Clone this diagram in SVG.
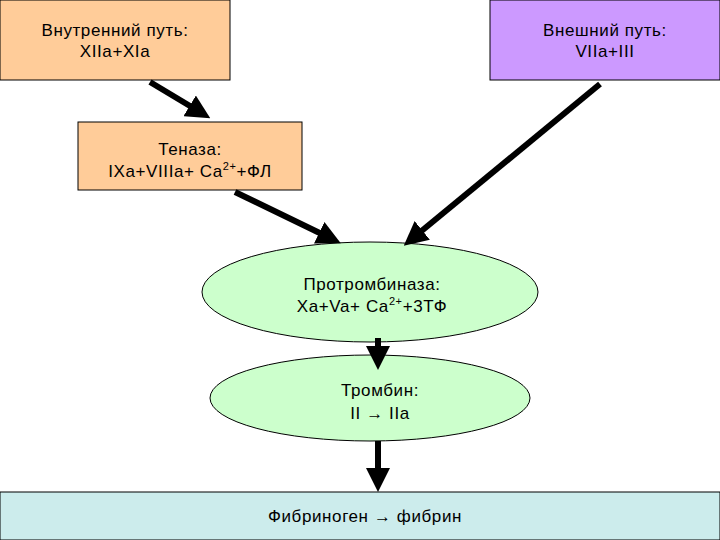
<svg xmlns="http://www.w3.org/2000/svg" width="720" height="540" viewBox="0 0 720 540">
<style>
text{font-family:"Liberation Sans",Arial,sans-serif;font-size:17px;letter-spacing:0.6px;fill:#000;text-anchor:middle}
.b{stroke:#000;stroke-width:1}
.c{stroke:#000;stroke-width:6;fill:none;marker-end:url(#ah)}
</style>
<defs><marker id="ah" markerWidth="4" markerHeight="4" refX="2" refY="2" orient="auto"><path d="M0,0L4,2L0,4Z" fill="#000"/></marker></defs>
<rect width="720" height="540" fill="#fff"/>
<g id="intr"><rect class="b" x="0" y="0" width="230" height="80" fill="#FFCC99"/><text x="115" y="36">Внутренний путь:</text><text x="115" y="57">XIIa+XIa</text></g>
<g id="extr"><rect class="b" x="490" y="0" width="230" height="80" fill="#CC99FF"/><text x="605" y="36">Внешний путь:</text><text x="605" y="57">VIIa+III</text></g>
<g id="tenase"><rect class="b" x="78" y="122" width="224" height="68" fill="#FFCC99"/><text x="190" y="155">Теназа:</text><text x="190" y="177">IXa+VIIIa+ Ca<tspan dy="-7" font-size="11">2+</tspan><tspan dy="7">+ФЛ</tspan></text></g>
<g id="prothr"><ellipse class="b" cx="370" cy="292" rx="168" ry="50" fill="#CCFFCC"/><text x="372" y="290">Протромбиназа:</text><text x="372" y="312">Xa+Va+ Ca<tspan dy="-7" font-size="11">2+</tspan><tspan dy="7">+3ТФ</tspan></text></g>
<g id="thr"><ellipse class="b" cx="370" cy="398" rx="160" ry="43" fill="#CCFFCC"/><text x="380" y="396">Тромбин:</text><text x="380" y="419">II → IIa</text></g>
<g id="fib"><rect class="b" x="0" y="492" width="720" height="48" fill="#CCECEC"/><text x="365" y="522">Фибриноген → фибрин</text></g>
<g id="connectors">
<line class="c" x1="150" y1="82" x2="200" y2="112"/>
<line class="c" x1="235" y1="192" x2="330" y2="238"/>
<line class="c" x1="600" y1="84" x2="413" y2="238"/>
<line class="c" x1="378" y1="338" x2="378" y2="358"/>
<line class="c" x1="378" y1="441" x2="378" y2="480"/>
</g>
</svg>
